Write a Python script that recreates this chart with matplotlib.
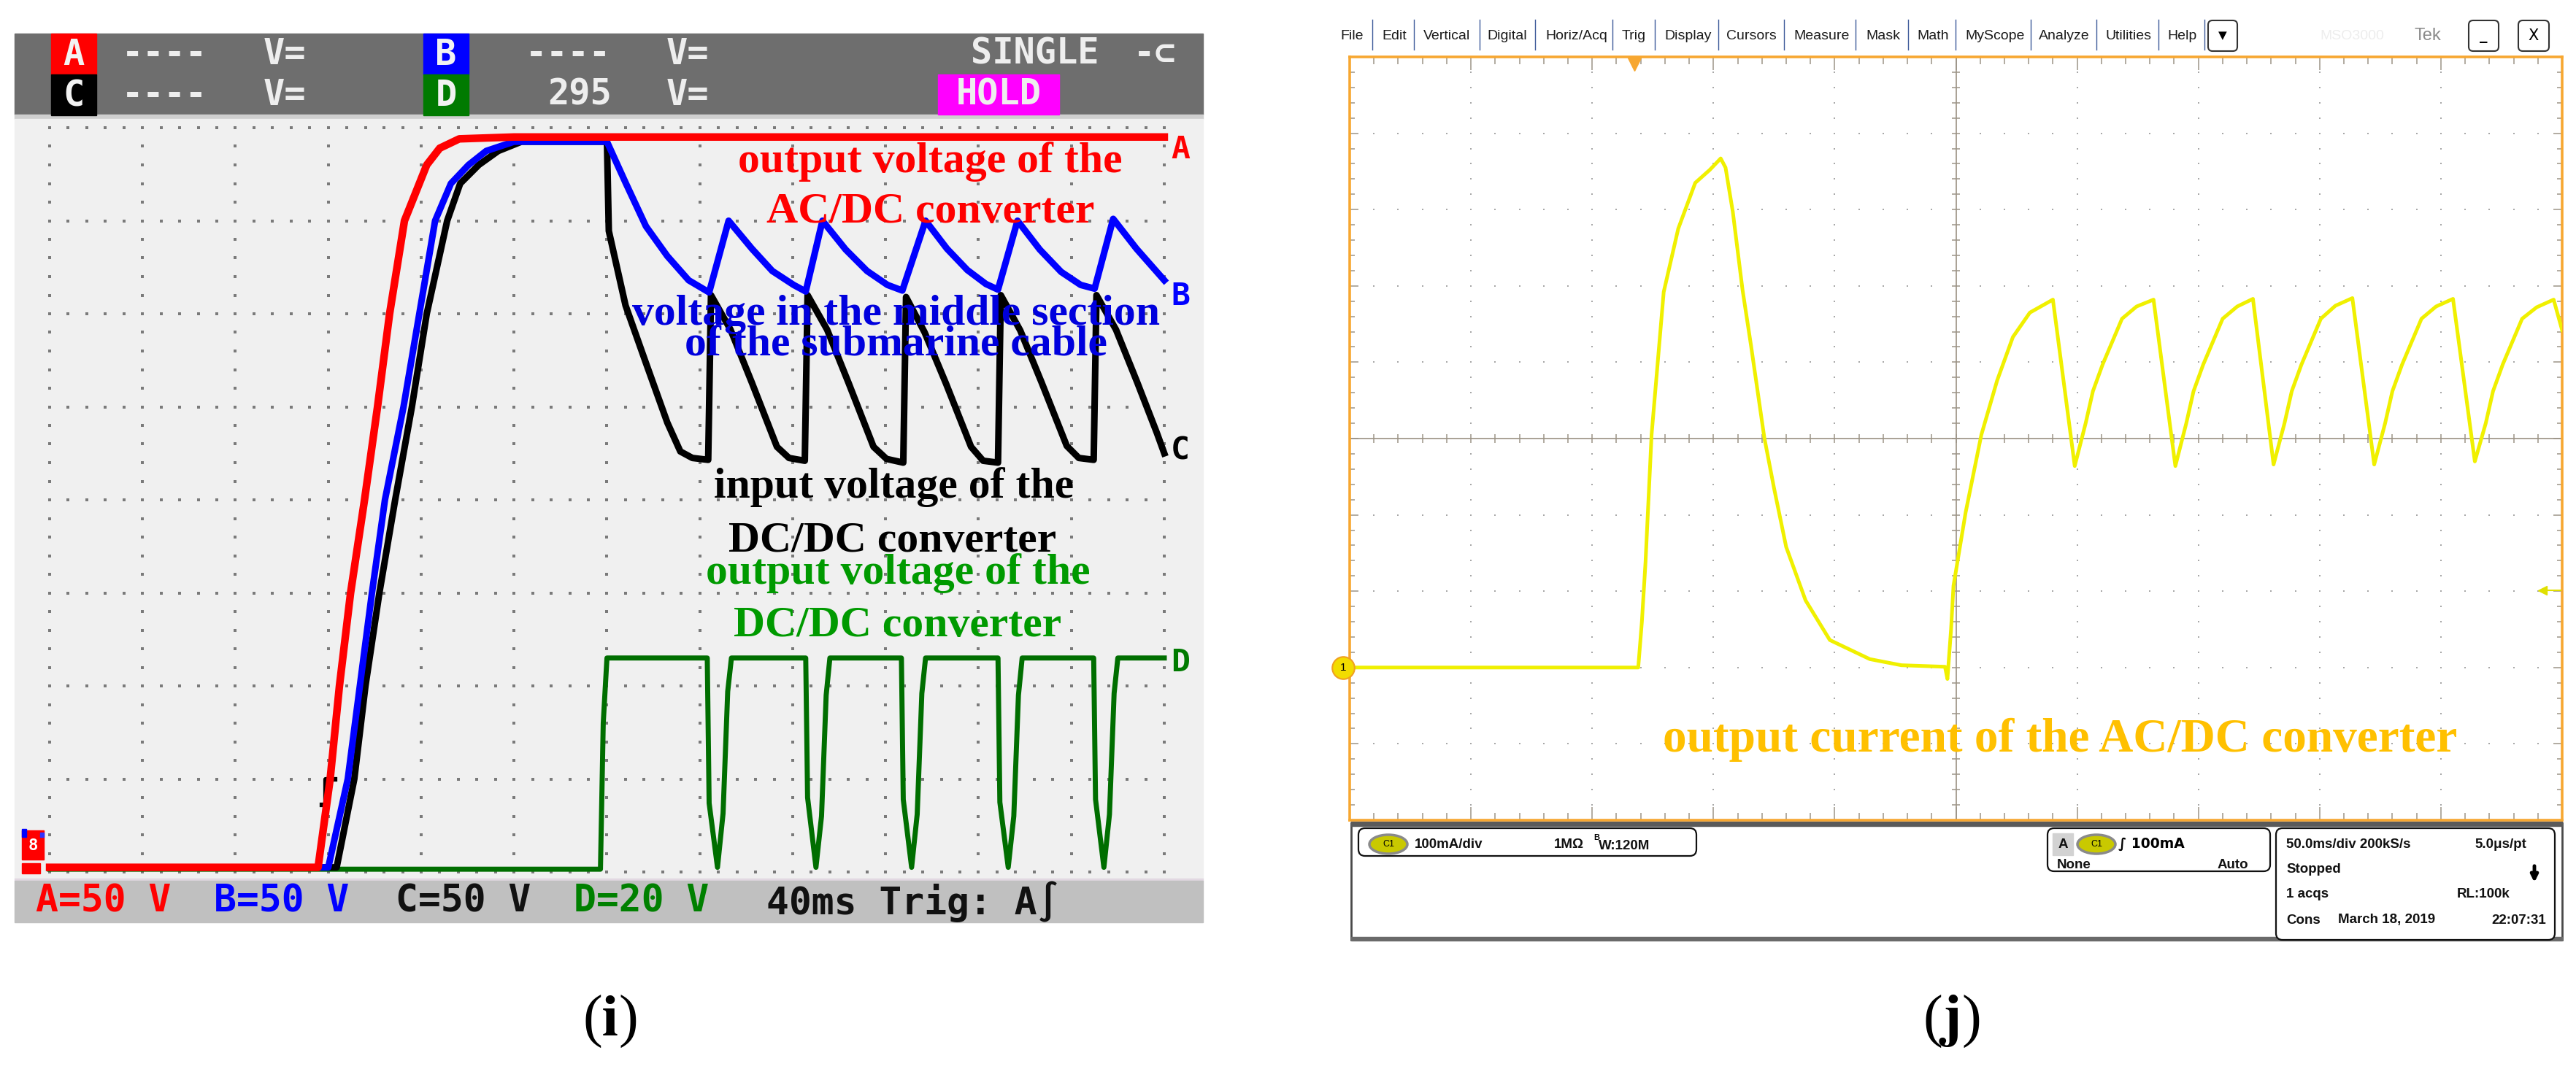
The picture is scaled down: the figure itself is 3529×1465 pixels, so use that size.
"""Two oscilloscope captures side by side: 4-channel start-up (i) and output current (j)."""

import matplotlib.pyplot as plt
import numpy as np
from matplotlib.collections import LineCollection
from matplotlib.patches import Ellipse, FancyBboxPatch, Rectangle

W, H, DPI = 3530, 1465, 100
plt.rcParams["mathtext.fontset"] = "stix"

# ---- panel (i): traces in screen divisions (x 0..12, y 0..8) ----
red_x = [0.00, 2.89, 3.02, 3.12, 3.24, 3.39, 3.53, 3.66, 3.82, 4.06, 4.20, 4.41, 5.00, 12.00]
red_y = [0.05, 0.05, 1.00, 2.00, 3.00, 4.00, 5.00, 6.00, 7.00, 7.60, 7.78, 7.88, 7.90, 7.90]

blue_x = [0.00, 3.00, 3.21, 3.34, 3.47, 3.61, 3.81, 3.98, 4.15, 4.32, 4.51, 4.70, 5.00,
          6.00, 6.20, 6.42, 6.65, 6.88, 7.10, 7.31, 7.56, 7.78, 8.01, 8.14,
          8.32, 8.57, 8.80, 9.02, 9.18, 9.43, 9.66, 9.88, 10.08, 10.21,
          10.42, 10.66, 10.89, 11.10, 11.25, 11.45, 11.70, 12.00]
blue_y = [0.05, 0.05, 1.00, 2.00, 3.00, 4.00, 5.00, 6.00, 7.00, 7.40, 7.60, 7.75, 7.85,
          7.85, 7.41, 6.94, 6.62, 6.36, 6.23, 7.00, 6.70, 6.46, 6.31, 6.24,
          7.00, 6.69, 6.46, 6.31, 6.25, 7.00, 6.70, 6.47, 6.32, 6.26,
          7.00, 6.69, 6.45, 6.31, 6.27, 7.02, 6.70, 6.36]

black_x = [0.00, 3.09, 3.28, 3.40, 3.55, 3.72, 3.90, 4.06, 4.28, 4.42, 4.62, 4.83, 5.08,
           6.00, 6.02, 6.20, 6.42, 6.65, 6.79, 6.92, 7.09,
           7.12, 7.33, 7.56, 7.83, 7.96, 8.13,
           8.16, 8.37, 8.60, 8.87, 9.01, 9.19,
           9.22, 9.42, 9.65, 9.92, 10.05, 10.21,
           10.24, 10.45, 10.68, 10.95, 11.08, 11.24,
           11.27, 11.48, 11.71, 11.92, 12.00]
black_y = [0.05, 0.05, 1.00, 2.00, 3.00, 4.00, 5.00, 6.00, 7.00, 7.40, 7.60, 7.75, 7.85,
           7.85, 6.89, 6.09, 5.47, 4.83, 4.52, 4.45, 4.43,
           6.20, 5.83, 5.26, 4.57, 4.45, 4.42,
           6.20, 5.83, 5.26, 4.57, 4.44, 4.40,
           6.18, 5.80, 5.25, 4.57, 4.42, 4.40,
           6.20, 5.82, 5.26, 4.58, 4.45, 4.43,
           6.20, 5.83, 5.26, 4.72, 4.50]
black_glitch_x = [2.93, 2.97, 2.97, 3.07]
black_glitch_y = [0.72, 0.72, 1.00, 1.00]

green_x = [0.00, 5.93, 5.96, 6.00,
           7.08, 7.10, 7.19, 7.25, 7.30, 7.34,
           8.14, 8.16, 8.25, 8.31, 8.36, 8.40,
           9.17, 9.19, 9.28, 9.34, 9.39, 9.43,
           10.21, 10.23, 10.32, 10.38, 10.43, 10.47,
           11.24, 11.26, 11.35, 11.41, 11.46, 11.50, 12.00]
green_y = [0.03, 0.03, 1.60, 2.30,
           2.30, 0.74, 0.05, 0.63, 1.94, 2.30,
           2.30, 0.80, 0.05, 0.60, 1.90, 2.30,
           2.30, 0.78, 0.05, 0.62, 1.92, 2.30,
           2.30, 0.75, 0.05, 0.60, 1.90, 2.30,
           2.30, 0.78, 0.05, 0.62, 1.92, 2.30, 2.30]

# ---- panel (j): current trace in divisions (x 0..10, y 0..10) ----
yel_x = [0.00, 2.38, 2.41, 2.44, 2.49, 2.59, 2.71, 2.85, 2.97, 3.06, 3.10, 3.16, 3.24, 3.31,
         3.42, 3.50, 3.60, 3.76, 3.96, 4.29, 4.55, 4.91,
         4.93, 4.96, 4.98, 5.08, 5.21, 5.34, 5.47, 5.61, 5.80,
         5.98, 6.07, 6.13, 6.21, 6.37, 6.49, 6.63,
         6.81, 6.90, 6.96, 7.04, 7.20, 7.32, 7.45,
         7.62, 7.71, 7.77, 7.85, 8.01, 8.13, 8.27,
         8.45, 8.54, 8.60, 8.68, 8.84, 8.96, 9.10,
         9.28, 9.37, 9.43, 9.51, 9.67, 9.79, 9.93, 10.00]
yel_y = [2.00, 2.00, 2.60, 3.38, 5.05, 6.92, 7.75, 8.35, 8.52, 8.67, 8.55, 7.97, 6.95, 6.22,
         5.01, 4.35, 3.58, 2.88, 2.36, 2.11, 2.03, 2.01,
         1.85, 2.50, 3.07, 4.03, 5.05, 5.76, 6.33, 6.65, 6.82,
         4.64, 5.20, 5.62, 5.97, 6.57, 6.73, 6.82,
         4.64, 5.20, 5.62, 5.97, 6.57, 6.73, 6.83,
         4.66, 5.20, 5.62, 5.97, 6.57, 6.74, 6.84,
         4.66, 5.20, 5.62, 5.97, 6.57, 6.73, 6.83,
         4.70, 5.20, 5.62, 5.97, 6.57, 6.72, 6.82, 6.42]

menu_items = ["File", "Edit", "Vertical", "Digital", "Horiz/Acq", "Trig", "Display", "Cursors",
              "Measure", "Mask", "Math", "MyScope", "Analyze", "Utilities", "Help"]
menu_centers = [1852, 1910, 1982, 2065, 2160, 2238, 2313, 2399, 2496, 2580, 2648, 2733,
                2828, 2916, 2990]
menu_seps = [1880, 1937, 2027, 2103, 2209, 2267, 2354, 2444, 2542, 2614, 2679, 2782,
             2872, 2957, 3020]

MONO = ["DejaVu Sans Mono", "DejaVu Sans"]
SERIF = "Liberation Serif"
SANS = "Liberation Sans"

fig = plt.figure(figsize=(W / DPI, H / DPI), dpi=DPI)
bg = fig.add_axes([0, 0, 1, 1])
bg.set_xlim(0, W)
bg.set_ylim(H, 0)
bg.axis("off")


def px_axes(x0, y0, x1, y1):
    return fig.add_axes([x0 / W, 1 - y1 / H, (x1 - x0) / W, (y1 - y0) / H])


def rect(x0, y0, x1, y1, **kw):
    bg.add_patch(Rectangle((x0, y0), x1 - x0, y1 - y0, **kw))


# ================= panel (i) frame =================
rect(20, 46, 1648, 157, color="#6e6e6e")
rect(20, 157, 1648, 163, color="#cfcfcf")
rect(20, 163, 1648, 1204, color="#f0f0f0")
rect(20, 1204, 1648, 1207, color="#e2d8e2")
rect(20, 1207, 1648, 1264, color="#c0c0c0")

for x0, y0, c, letter in [(70, 46, "#ff0000", "A"), (70, 102, "#000000", "C"),
                          (580, 46, "#0000ff", "B"), (580, 102, "#007a00", "D")]:
    rect(x0, y0, x0 + 62, y0 + 56, color=c)
    bg.text(x0 + 31, y0 + 29, letter, color="#f2f2f2", fontsize=35, family=MONO,
            weight="bold", ha="center", va="center")

hdr = dict(color="#eeeeee", fontsize=35, family=MONO, weight="bold", va="center")
bg.text(225, 74, "----", ha="center", **hdr)
bg.text(225, 130, "----", ha="center", **hdr)
bg.text(390, 74, "V=", ha="center", **hdr)
bg.text(390, 130, "V=", ha="center", **hdr)
bg.text(778, 74, "----", ha="center", **hdr)
bg.text(794, 130, "295", ha="center", **hdr)
bg.text(942, 74, "V=", ha="center", **hdr)
bg.text(942, 130, "V=", ha="center", **hdr)
bg.text(1418, 74, "SINGLE", ha="center", **hdr)
bg.text(1582, 74, "-⊂", ha="center", **hdr)
rect(1285, 102, 1451, 157, color="#ff00ff")
bg.text(1368, 130, "HOLD", ha="center", **hdr)

ftr = dict(fontsize=37, family=MONO, weight="bold", va="center", ha="left")
bg.text(49, 1236, "A=50 V", color="#ff0000", **ftr)
bg.text(293, 1236, "B=50 V", color="#0000ff", **ftr)
bg.text(542, 1236, "C=50 V", color="#111111", **ftr)
bg.text(786, 1236, "D=20 V", color="#008000", **ftr)
bg.text(1050, 1236, "40ms Trig: A∫", color="#111111", **ftr)

# ground marker, lower left
rect(30, 1138, 60, 1178, color="#ff0000")
rect(30, 1136, 36, 1147, color="#0000ff")
rect(55, 1141, 60, 1147, color="#3030ff")
rect(30, 1183, 55, 1197, color="#ff0000")
bg.text(45, 1159, "8", color="white", fontsize=16, family=MONO, weight="bold",
        ha="center", va="center")

# ================= panel (i) screen =================
ax1 = px_axes(68, 175, 1595, 1195)
ax1.set_xlim(0, 12)
ax1.set_ylim(0, 8)
ax1.axis("off")
ax1.patch.set_alpha(0)

col_y = np.arange(0, 8.001, 0.2)
row_x = np.arange(0, 12.001, 0.2)
gx = np.concatenate([np.full(col_y.size, k) for k in range(13)] + [row_x for _ in range(9)])
gy = np.concatenate([col_y for _ in range(13)] + [np.full(row_x.size, j) for j in range(9)])
ax1.plot(gx, gy, ls="none", marker="s", ms=2.6, color="#7a7a7a", mew=0, clip_on=False)

ax1.plot(green_x, green_y, color="#006e00", lw=5, clip_on=False, zorder=3)
ax1.plot(black_x, black_y, color="#000000", lw=6.5, clip_on=False, zorder=4)
ax1.plot(black_glitch_x, black_glitch_y, color="#000000", lw=4.5, clip_on=False, zorder=4)
ax1.plot(blue_x, blue_y, color="#0000ff", lw=6.5, clip_on=False, zorder=5)
ax1.plot(red_x, red_y, color="#ff0000", lw=7.5, clip_on=False, zorder=6)

tag = dict(fontsize=31, family=MONO, weight="bold", ha="center", va="center",
           transform=bg.transData, clip_on=False, zorder=8)
ax1.text(1617, 205, "A", color="#ff0000", **tag)
ax1.text(1617, 406, "B", color="#0000ff", **tag)
ax1.text(1617, 617, "C", color="#000000", **tag)
ax1.text(1617, 908, "D", color="#007a00", **tag)

lab = dict(fontsize=43, family=SERIF, weight="bold", ha="center", va="baseline",
           transform=bg.transData, clip_on=False, zorder=10)
ax1.text(1274, 236, "output voltage of the", color="#ff0000", **lab)
ax1.text(1275, 305, "AC/DC converter", color="#ff0000", **lab)
ax1.text(1228, 445, "voltage in the middle section", color="#0000dd", **lab)
ax1.text(1227, 488, "of the submarine cable", color="#0000dd", **lab)
ax1.text(1225, 682, "input voltage of the", color="#000000", **lab)
ax1.text(1223, 756, "DC/DC converter", color="#000000", **lab)
ax1.text(1230, 800, "output voltage of the", color="#009a00", **lab)
ax1.text(1230, 872, "DC/DC converter", color="#009a00", **lab)

# ================= panel (j) menu bar =================
for name, cx in zip(menu_items, menu_centers):
    bg.text(cx, 49, name, fontsize=14, family=SANS, color="#1a1a1a", ha="center", va="center")
for sx in menu_seps:
    bg.plot([sx, sx], [27, 68], color="#3d5a99", lw=1)
for x0, x1, s in [(3025, 3065, "▼"), (3382, 3423, "_"), (3450, 3492, "X")]:
    bg.add_patch(FancyBboxPatch((x0, 28), x1 - x0, 42, boxstyle="round,pad=0,rounding_size=6",
                                fc="white", ec="#333333", lw=1.5))
    bg.text((x0 + x1) / 2, 49, s, fontsize=15 if s != "▼" else 11, family=["DejaVu Sans"],
            weight="bold" if s == "_" else "normal", ha="center", va="center")
bg.text(3222, 49, "MSO3000", fontsize=14, family=SANS, color="#ededed", ha="center", va="center")
bg.text(3326, 49, "Tek", fontsize=17, family=SANS, color="#8a8a8a", ha="center", va="center")

# ================= panel (j) screen =================
ax2 = px_axes(1849, 78, 3510, 1124)
ax2.set_xlim(0, 10)
ax2.set_ylim(0, 10)
ax2.set_xticks([])
ax2.set_yticks([])
ax2.set_facecolor("white")
for sp in ax2.spines.values():
    sp.set_color("#f7a731")
    sp.set_linewidth(2.6)

steps = np.arange(0, 10.001, 0.2)
dx, dy = [], []
for k in [1, 2, 3, 4, 6, 7, 8, 9]:
    dx += [np.full(steps.size, k), steps]
    dy += [steps, np.full(steps.size, k)]
ax2.plot(np.concatenate(dx), np.concatenate(dy), ls="none", marker="s", ms=1.6,
         color="#a8a8a8", mew=0)
ax2.axvline(5, color="#a39a8c", lw=1.3)
ax2.axhline(5, color="#a39a8c", lw=1.3)

segs = []
for v in steps:
    major = abs(v - round(v)) < 1e-6
    lx = 0.07 if major else 0.045
    ly = 0.17 if major else 0.1
    segs += [[(v, 10), (v, 10 - ly)], [(v, 0), (v, ly)],
             [(0, v), (lx, v)], [(10, v), (10 - lx, v)],
             [(v, 5 - 0.06), (v, 5 + 0.06)], [(5 - 0.035, v), (5 + 0.035, v)]]
ax2.add_collection(LineCollection(segs, colors="#9c9488", linewidths=1.1))

ax2.plot(yel_x, yel_y, color="#f0f000", lw=3.6, zorder=5, solid_joinstyle="round")

ax2.plot([-0.055], [yel_y[0]], marker="o", ms=22, mfc="#f2dc00", mec="#f0a020", mew=1.5,
         clip_on=False, zorder=7)
ax2.text(-0.055, yel_y[0], "1", fontsize=11, family=SANS, ha="center", va="center",
         clip_on=False, zorder=8)
ax2.plot([9.84, 9.99], [3.01, 3.01], color="#e0e000", lw=1.5, zorder=6)
ax2.plot([9.84], [3.01], marker="<", ms=8, color="#e0e000", zorder=6)
ax2.plot([2.35], [9.9], marker="v", ms=13, color="#f7a731", zorder=6, clip_on=False)

ax2.text(2822, 1030, "output current of the AC/DC converter", color="#ffc000", fontsize=47,
         family=SERIF, weight="bold", ha="center", va="baseline", transform=bg.transData,
         zorder=10)

# ================= panel (j) status bar =================
rect(1851, 1128, 3510, 1288, fc="white", ec="#4a4a4a", lw=2)
rect(1851, 1126, 3510, 1132, color="#5a5a5a")
rect(1851, 1284, 3510, 1289, color="#6a6a6a")
for x0, y0, w, h in [(1861, 1135, 463, 38), (2805, 1135, 305, 59), (3118, 1135, 382, 153)]:
    bg.add_patch(FancyBboxPatch((x0, y0), w, h, boxstyle="round,pad=0,rounding_size=9",
                                fc="white", ec="#111111", lw=1.6))


def c1_badge(cx, cy):
    bg.add_patch(Ellipse((cx, cy), 52, 26, fc="#c9c900", ec="#8a8a8a", lw=2.5))
    bg.text(cx, cy, "C1", fontsize=9, family=SANS, ha="center", va="center")


st = dict(fontsize=13.5, family=SANS, weight="bold", color="#111111", va="center")
c1_badge(1902, 1157)
bg.text(1938, 1157, "100mA/div", ha="left", **st)
bg.text(2129, 1157, "1MΩ", ha="left", **st)
bg.text(2183, 1148, "B", ha="left", fontsize=8, family=SANS, weight="bold", va="center")
bg.text(2190, 1160, "W:120M", ha="left", **st)

rect(2812, 1142, 2840, 1172, color="#d2d2d2")
bg.text(2826, 1157, "A", ha="center", **st)
c1_badge(2872, 1157)
bg.text(2902, 1157, "∫ 100mA", ha="left", fontsize=13.5, family=["DejaVu Sans"],
        weight="bold", va="center")
bg.text(2818, 1185, "None", ha="left", **st)
bg.text(3080, 1185, "Auto", ha="right", **st)

bg.text(3132, 1157, "50.0ms/div 200kS/s", ha="left", **st)
bg.text(3461, 1157, "5.0μs/pt", ha="right", **st)
bg.text(3132, 1191, "Stopped", ha="left", **st)
bg.annotate("", xy=(3472, 1212), xytext=(3472, 1184),
            arrowprops=dict(arrowstyle="-|>", lw=3.5, color="black", mutation_scale=14))
bg.text(3132, 1226, "1 acqs", ha="left", **st)
bg.text(3366, 1226, "RL:100k", ha="left", **st)
bg.text(3132, 1261, "Cons", ha="left", **st)
bg.text(3203, 1261, "March 18, 2019", ha="left", **st)
bg.text(3488, 1261, "22:07:31", ha="right", **st)

# ================= captions =================
bg.text(835, 1400, r"($\mathbf{i}$)", fontsize=58, family=SERIF, ha="center", va="center")
bg.text(2673, 1400, r"($\mathbf{j}$)", fontsize=58, family=SERIF, ha="center", va="center")

fig.savefig("out.png", dpi=DPI)
plt.close(fig)
